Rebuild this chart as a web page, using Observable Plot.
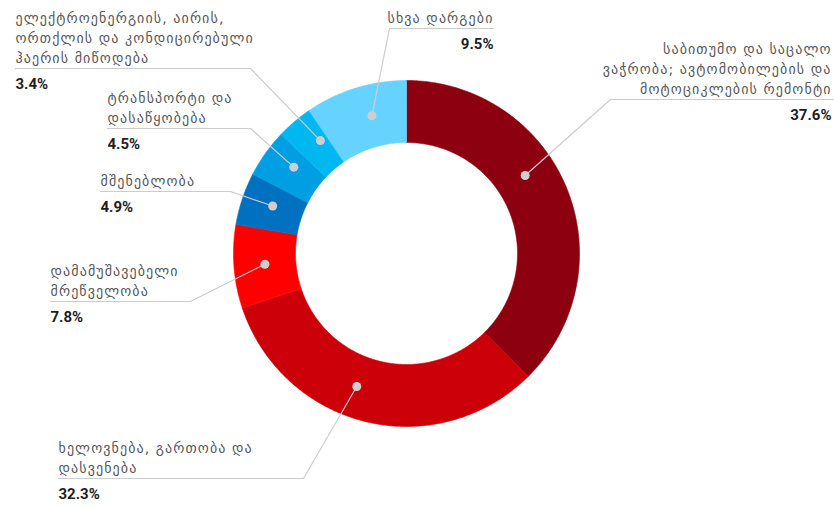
<!DOCTYPE html>
<html><head><meta charset="utf-8">
<script src="https://cdn.jsdelivr.net/npm/d3@7"></script>
<script src="https://cdn.jsdelivr.net/npm/@observablehq/plot@0.6"></script>
<style>body{margin:0;background:#fff} g[aria-description="label"] text{letter-spacing:1.1px}</style>
</head><body><div id="chart"></div>
<script>
// ---- data ----
const categories = [
  "საბითუმო და საცალო ვაჭრობა; ავტომობილების და მოტოციკლების რემონტი",
  "ხელოვნება, გართობა და დასვენება",
  "დამამუშავებელი მრეწველობა",
  "მშენებლობა",
  "ტრანსპორტი და დასაწყობება",
  "ელექტროენერგიის, აირის, ორთქლის და კონდიცირებული ჰაერის მიწოდება",
  "სხვა დარგები"
];
const labelLines = [
  "საბითუმო და საცალო\nვაჭრობა; ავტომობილების და\nმოტოციკლების რემონტი",
  "ხელოვნება, გართობა და\nდასვენება",
  "დამამუშავებელი\nმრეწველობა",
  "მშენებლობა",
  "ტრანსპორტი და\nდასაწყობება",
  "ელექტროენერგიის, აირის,\nორთქლის და კონდიცირებული\nჰაერის მიწოდება",
  "სხვა დარგები"
];
const shares = [37.6, 32.3, 7.8, 4.9, 4.5, 3.4, 9.5];
const colors = ["#8c0010", "#cc0008", "#ff0000", "#0070c0", "#009fe3", "#00b8f1", "#66d3ff"];

// ---- layout (pixels) ----
const W = 834, H = 507;
const cx = 406, cy = 253, rOuter = 173, rInner = 111, rDot = 142;
const layout = [
  {anchor: "end",   elbow: [610, 99],  endX: 833, textX: 831, dotShift: -11},
  {anchor: "start", elbow: [303, 478], endX: 58,  textX: 58,  dotShift: 7},
  {anchor: "start", elbow: [190, 301], endX: 50,  textX: 50,  dotShift: 0},
  {anchor: "start", elbow: [230, 191], endX: 100, textX: 100, dotShift: 1},
  {anchor: "start", elbow: [250, 128], endX: 107, textX: 107, dotShift: 2},
  {anchor: "start", elbow: [250, 68],  endX: 15,  textX: 15,  dotShift: 3},
  {anchor: "end",   elbow: [389, 28],  endX: 493, textX: 493, dotShift: 3}
];

// ---- derived geometry ----
const total = d3.sum(shares);
const rad = deg => deg * Math.PI / 180;
const pt = (deg, r) => [cx + r * Math.sin(rad(deg)), cy - r * Math.cos(rad(deg))];
let acc = 0;
const slices = shares.map((v, i) => {
  const a0 = acc / total * 360; acc += v; const a1 = acc / total * 360;
  return {cat: categories[i], i, a0, a1, mid: (a0 + a1) / 2};
});
const poly = [];
for (const s of slices) {
  const n = Math.max(2, Math.ceil((s.a1 - s.a0) / 0.5));
  for (let k = 0; k <= n; k++) { const [x, y] = pt(s.a0 + (s.a1 - s.a0) * k / n, rOuter); poly.push({cat: s.cat, x, y}); }
  for (let k = n; k >= 0; k--) { const [x, y] = pt(s.a0 + (s.a1 - s.a0) * k / n, rInner); poly.push({cat: s.cat, x, y}); }
}
const dots = slices.map(s => { const [x, y] = pt(s.mid + layout[s.i].dotShift, rDot); return {cat: s.cat, i: s.i, x, y}; });
const leaders = [];
for (const d of dots) {
  const L = layout[d.i];
  leaders.push({cat: d.cat, x: d.x, y: d.y});
  leaders.push({cat: d.cat, x: L.elbow[0], y: L.elbow[1]});
  leaders.push({cat: d.cat, x: L.endX, y: L.elbow[1]});
}
const texts = slices.map(s => ({
  i: s.i, anchor: layout[s.i].anchor, x: layout[s.i].textX, lineY: layout[s.i].elbow[1],
  label: labelLines[s.i], pct: shares[s.i].toFixed(1) + "%"
}));
const left = texts.filter(t => t.anchor === "start"), right = texts.filter(t => t.anchor === "end");

const labelStyle = {ariaDescription: "label", fontSize: 14, fill: "#585858", fontFamily: "DejaVu Sans", lineAnchor: "bottom", lineHeight: 1.4};
const pctStyle = {ariaDescription: "pct", fontSize: 15, fontWeight: "bold", fill: "#1e1e1e", fontFamily: "Roboto, DejaVu Sans", lineAnchor: "middle"};

const chart = Plot.plot({
  width: W, height: H, margin: 0,
  x: {domain: [0, W], range: [0, W], axis: null},
  y: {domain: [0, H], range: [0, H], axis: null},
  color: {domain: categories, range: colors},
  marks: [
    Plot.line(poly, {x: "x", y: "y", z: "cat", fill: "cat", stroke: "cat", strokeWidth: 0.6, curve: "linear-closed"}),
    Plot.line(leaders, {x: "x", y: "y", z: "cat", stroke: "#cccccc", strokeWidth: 1.2}),
    Plot.dot(dots, {x: "x", y: "y", r: 4.5, fill: "#cfcfcf"}),
    Plot.text(left, {x: "x", y: d => d.lineY - 6, text: "label", textAnchor: "start", ...labelStyle}),
    Plot.text(right, {x: "x", y: d => d.lineY - 6, text: "label", textAnchor: "end", ...labelStyle}),
    Plot.text(left, {x: "x", y: d => d.lineY + 16, text: "pct", textAnchor: "start", ...pctStyle}),
    Plot.text(right, {x: "x", y: d => d.lineY + 16, text: "pct", textAnchor: "end", ...pctStyle})
  ]
});
document.getElementById("chart").append(chart);
</script>
</body></html>
